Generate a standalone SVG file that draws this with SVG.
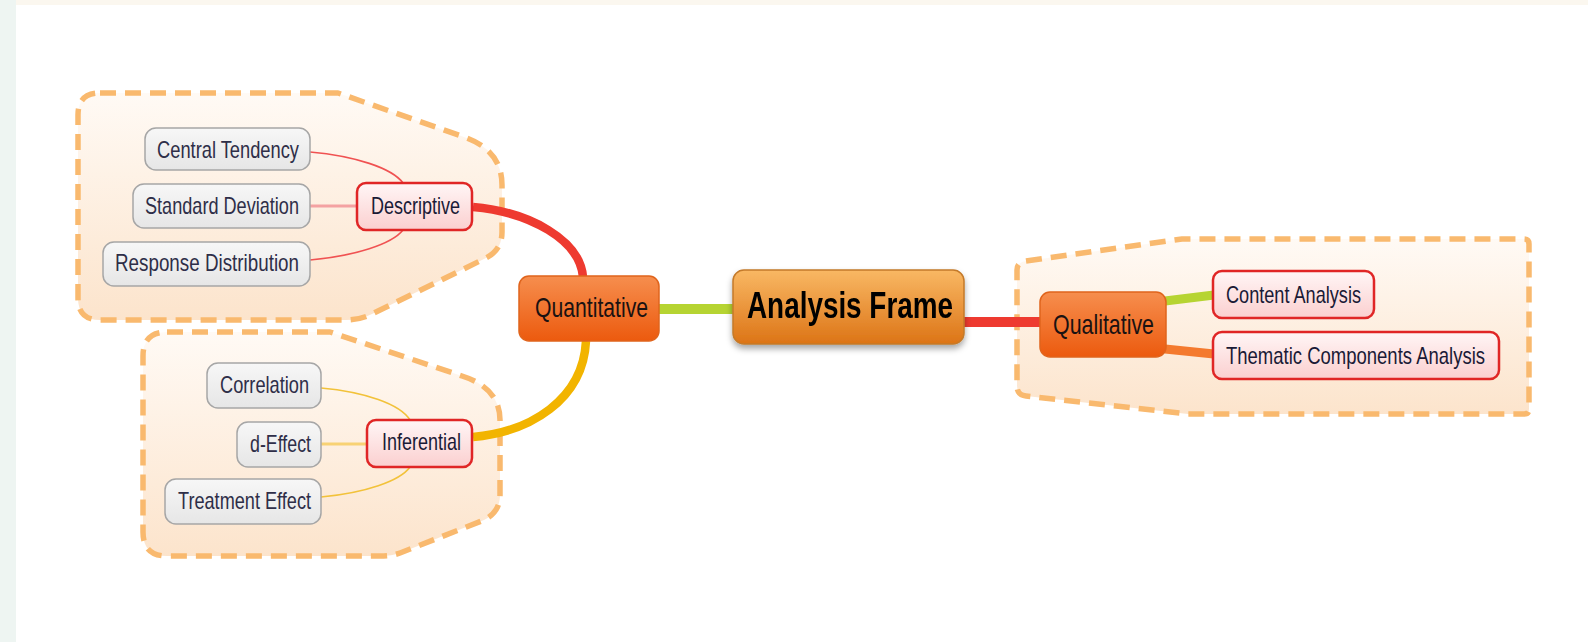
<svg xmlns="http://www.w3.org/2000/svg" width="1588" height="642" viewBox="0 0 1588 642">
  <defs>
    <linearGradient id="gBoundary" x1="0" y1="0" x2="0" y2="1">
      <stop offset="0" stop-color="#fffaf5"/>
      <stop offset="1" stop-color="#fce4cc"/>
    </linearGradient>
    <linearGradient id="gLeaf" x1="0" y1="0" x2="0" y2="1">
      <stop offset="0" stop-color="#f7f7f7"/>
      <stop offset="1" stop-color="#e6e6e6"/>
    </linearGradient>
    <linearGradient id="gPink" x1="0" y1="0" x2="0" y2="1">
      <stop offset="0" stop-color="#fff6f6"/>
      <stop offset="1" stop-color="#fbcfcf"/>
    </linearGradient>
    <linearGradient id="gOrange" x1="0" y1="0" x2="0" y2="1">
      <stop offset="0" stop-color="#f68e4e"/>
      <stop offset="1" stop-color="#ec5a0e"/>
    </linearGradient>
    <linearGradient id="gCentral" x1="0" y1="0" x2="0" y2="1">
      <stop offset="0" stop-color="#f9b864"/>
      <stop offset="1" stop-color="#dc7416"/>
    </linearGradient>
    <filter id="shadow" x="-10%" y="-20%" width="120%" height="150%">
      <feDropShadow dx="0" dy="4" stdDeviation="3" flood-color="#000" flood-opacity="0.35"/>
    </filter>
  </defs>
  <style>
    .boundary { fill: url(#gBoundary); stroke: #f9b96e; stroke-width: 5.5; stroke-dasharray: 16 9; stroke-linejoin: round; }
    .leaf { fill: url(#gLeaf); stroke: #a6a6a6; stroke-width: 1.5; }
    .sub { fill: url(#gPink); stroke: #e02626; stroke-width: 2.5; }
    .main { fill: url(#gOrange); stroke: #e0641c; stroke-width: 1.5; }
    .central { fill: url(#gCentral); stroke: #c47a2a; stroke-width: 1.5; }
    text { font-family: "Liberation Sans", Arial, sans-serif; fill: #1a1a36; }
    .t-leaf { font-size: 24px; fill: #2e2e48; }
    .t-sub { font-size: 24px; }
    .t-main { font-size: 28px; fill: #1a1212; }
    .t-central { font-size: 36px; font-weight: bold; fill: #000; }
    .thin { fill: none; stroke-width: 1.6; }
    .thick { fill: none; stroke-linecap: butt; }
  </style>

  <!-- page edges -->
  <rect x="0" y="0" width="1588" height="642" fill="#ffffff"/>
  <rect x="0" y="0" width="1588" height="5" fill="#fbf7ef"/>
  <rect x="0" y="0" width="16" height="642" fill="#eef5f2"/>

  <!-- group outlines -->
  <g id="boundaries">
    <path class="boundary" d="M100,93 L338,93 L464,137 Q502,150 502,185 L502,232 Q502,250 486,258 L372,314 Q360,320 346,320 L100,320 Q78,320 78,298 L78,115 Q78,93 100,93 Z"/>
    <path class="boundary" d="M167,332 L330,332 L462,376 Q500,388 500,420 L500,495 Q500,512 484,520 L400,553 Q392,556 380,556 L167,556 Q143,556 143,532 L143,356 Q143,332 167,332 Z"/>
    <path class="boundary" d="M1026,261 L1182,239 L1524,239 Q1529,239 1529,244 L1529,409 Q1529,414 1524,414 L1188,414 L1026,396 Q1017,395 1017,386 L1017,270 Q1017,262 1026,261 Z"/>
  </g>

  <!-- connectors -->
  <g id="connectors">
    <path class="thin" stroke="#f05252" d="M310,152 C355,156 392,168 403,183"/>
    <path class="thick" stroke="#f4a2a2" stroke-width="3" d="M310,206 L358,206"/>
    <path class="thin" stroke="#f05252" d="M310,260 C355,256 392,244 403,230"/>
    <path class="thin" stroke="#f2c23a" d="M321,388 C365,392 400,404 410,420"/>
    <path class="thick" stroke="#f8d274" stroke-width="3" d="M321,444 L367,444"/>
    <path class="thin" stroke="#f2c23a" d="M321,497 C365,493 400,481 410,467"/>
    <path class="thick" stroke="#ee3a30" stroke-width="8.5" d="M473,207 C530,212 580,240 583,277"/>
    <path class="thick" stroke="#f2b400" stroke-width="8.5" d="M473,437 C530,432 583,400 586,341"/>
    <path class="thick" stroke="#b6d432" stroke-width="10" d="M659,309 L733,309"/>
    <path class="thick" stroke="#ee3a30" stroke-width="10" d="M964,322 L1041,322"/>
    <path class="thick" stroke="#b6d432" stroke-width="9" d="M1165,301 L1214,295"/>
    <path class="thick" stroke="#f47a2e" stroke-width="9" d="M1165,349 L1214,354"/>
  </g>

  <!-- central topic -->
  <g id="analysis-frame" filter="url(#shadow)">
    <rect class="central" x="733" y="270" width="231" height="74" rx="11"/>
    <text class="t-central" x="747" y="318" textLength="206" lengthAdjust="spacingAndGlyphs">Analysis Frame</text>
  </g>

  <!-- main topics -->
  <g id="quantitative">
    <rect class="main" x="519" y="276" width="140" height="65" rx="10"/>
    <text class="t-main" x="535" y="317" textLength="113" lengthAdjust="spacingAndGlyphs">Quantitative</text>
  </g>
  <g id="qualitative">
    <rect class="main" x="1040" y="292" width="126" height="65" rx="10"/>
    <text class="t-main" x="1053" y="334" textLength="101" lengthAdjust="spacingAndGlyphs">Qualitative</text>
  </g>

  <!-- subtopics -->
  <g id="descriptive">
    <rect class="sub" x="357" y="183" width="115" height="47" rx="9"/>
    <text class="t-sub" x="371" y="214" textLength="89" lengthAdjust="spacingAndGlyphs">Descriptive</text>
  </g>
  <g id="inferential">
    <rect class="sub" x="367" y="420" width="105" height="47" rx="9"/>
    <text class="t-sub" x="382" y="450" textLength="79" lengthAdjust="spacingAndGlyphs">Inferential</text>
  </g>
  <g id="content-analysis">
    <rect class="sub" x="1213" y="271" width="161" height="47" rx="9"/>
    <text class="t-sub" x="1226" y="303" textLength="135" lengthAdjust="spacingAndGlyphs">Content Analysis</text>
  </g>
  <g id="thematic-components-analysis">
    <rect class="sub" x="1213" y="332" width="286" height="47" rx="9"/>
    <text class="t-sub" x="1226" y="364" textLength="259" lengthAdjust="spacingAndGlyphs">Thematic Components Analysis</text>
  </g>

  <!-- descriptive measures -->
  <g id="central-tendency">
    <rect class="leaf" x="145" y="128" width="165" height="42" rx="11"/>
    <text class="t-leaf" x="157" y="158" textLength="142" lengthAdjust="spacingAndGlyphs">Central Tendency</text>
  </g>
  <g id="standard-deviation">
    <rect class="leaf" x="133" y="184" width="177" height="44" rx="11"/>
    <text class="t-leaf" x="145" y="214" textLength="154" lengthAdjust="spacingAndGlyphs">Standard Deviation</text>
  </g>
  <g id="response-distribution">
    <rect class="leaf" x="103" y="242" width="207" height="44" rx="11"/>
    <text class="t-leaf" x="115" y="271" textLength="184" lengthAdjust="spacingAndGlyphs">Response Distribution</text>
  </g>

  <!-- inferential measures -->
  <g id="correlation">
    <rect class="leaf" x="207" y="363" width="114" height="45" rx="11"/>
    <text class="t-leaf" x="220" y="393" textLength="89" lengthAdjust="spacingAndGlyphs">Correlation</text>
  </g>
  <g id="d-effect">
    <rect class="leaf" x="237" y="422" width="84" height="45" rx="11"/>
    <text class="t-leaf" x="250" y="452" textLength="61" lengthAdjust="spacingAndGlyphs">d-Effect</text>
  </g>
  <g id="treatment-effect">
    <rect class="leaf" x="165" y="479" width="156" height="45" rx="11"/>
    <text class="t-leaf" x="178" y="509" textLength="133" lengthAdjust="spacingAndGlyphs">Treatment Effect</text>
  </g>
</svg>
